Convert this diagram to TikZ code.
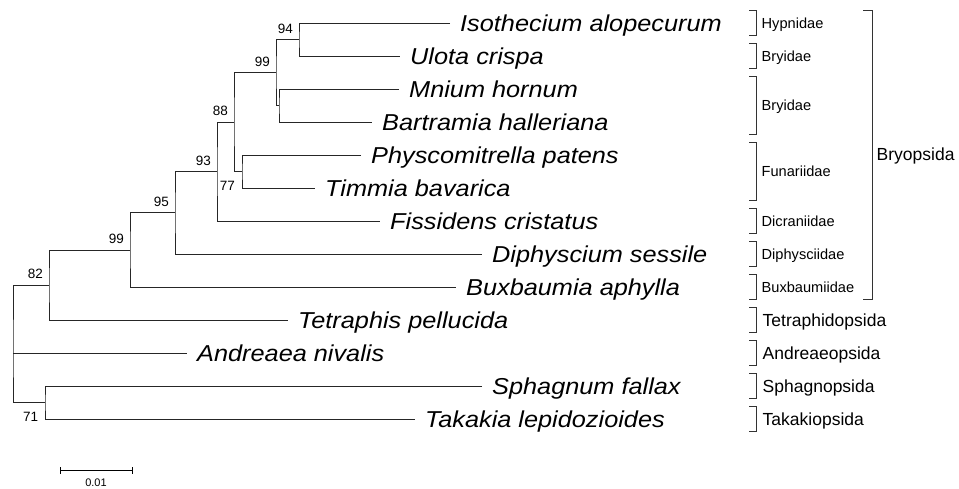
\documentclass[tikz,border=0pt]{standalone}
\usepackage{fontspec}
\setmainfont{Liberation Sans}
\newfontfamily\spfont[FakeStretch=1.1]{Liberation Sans}
\usetikzlibrary{positioning}

\tikzset{
  branch/.style={draw=black!85, line width=0.9pt},
  bracket/.style={draw=black!80, line width=0.9pt},
  taxon/.style={anchor=base west, inner sep=0pt, yshift=-8pt,
    font=\spfont\itshape\fontsize{23}{23}\selectfont},
  boot/.style={anchor=base east, inner sep=0pt, font=\fontsize{13.5}{13.5}\selectfont},
  subcl/.style={anchor=base west, inner sep=0pt, font=\fontsize{14.6}{14.6}\selectfont},
  cls/.style={anchor=base west, inner sep=0pt, font=\fontsize{17.5}{17.5}\selectfont},
}

\begin{document}
\begin{tikzpicture}[x=1pt, y=-1pt]
  \useasboundingbox (0,0) rectangle (959,488);

  % tips
  \coordinate (isot) at (450,23);
  \coordinate (ulot) at (400,56);
  \coordinate (mniu) at (399,89);
  \coordinate (bart) at (372,122);
  \coordinate (phys) at (361,155);
  \coordinate (timm) at (315,188);
  \coordinate (fiss) at (380,221);
  \coordinate (diph) at (482,254);
  \coordinate (buxb) at (456,287);
  \coordinate (tetr) at (288,320);
  \coordinate (andr) at (187,353);
  \coordinate (spha) at (482,386);
  \coordinate (taka) at (415,419);

  % internal nodes
  \coordinate (n94)  at (299,39.5);
  \coordinate (nmb)  at (279,105.5);
  \coordinate (n99a) at (276,72.5);
  \coordinate (n77)  at (242,171.5);
  \coordinate (n88)  at (234,122);
  \coordinate (n93)  at (217,171.5);
  \coordinate (n95)  at (175,212.75);
  \coordinate (n99b) at (130,250);
  \coordinate (n82)  at (49,285);
  \coordinate (n71)  at (45,402.5);
  \coordinate (root) at (13,353);

  % tree
  \draw[branch] (isot) -| (n94) |- (ulot);
  \draw[branch] (mniu) -| (nmb) |- (bart);
  \draw[branch] (n94) -| (n99a) |- (nmb);
  \draw[branch] (phys) -| (n77) |- (timm);
  \draw[branch] (n99a) -| (n88) |- (n77);
  \draw[branch] (n88) -| (n93) |- (fiss);
  \draw[branch] (n93) -| (n95) |- (diph);
  \draw[branch] (n95) -| (n99b) |- (buxb);
  \draw[branch] (n99b) -| (n82) |- (tetr);
  \draw[branch] (spha) -| (n71) |- (taka);
  \draw[branch] (n82) -| (root) |- (n71);
  \draw[branch] (root) -- (andr);

  % species
  \node[right=10pt of isot, taxon] (isotname) {Isothecium alopecurum};
  \node[right=10pt of ulot, taxon] (ulotname) {Ulota crispa};
  \node[right=10pt of mniu, taxon] (mniuname) {Mnium hornum};
  \node[right=10pt of bart, taxon] (bartname) {Bartramia halleriana};
  \node[right=10pt of phys, taxon] (physname) {Physcomitrella patens};
  \node[right=10pt of timm, taxon] (timmname) {Timmia bavarica};
  \node[right=10pt of fiss, taxon] (fissname) {Fissidens cristatus};
  \node[right=10pt of diph, taxon] (diphname) {Diphyscium sessile};
  \node[right=10pt of buxb, taxon] (buxbname) {Buxbaumia aphylla};
  \node[right=10pt of tetr, taxon] (tetrname) {Tetraphis pellucida};
  \node[right=10pt of andr, taxon] (andrname) {Andreaea nivalis};
  \node[right=10pt of spha, taxon] (sphaname) {Sphagnum fallax};
  \node[right=10pt of taka, taxon] (takaname) {Takakia lepidozioides};

  % bootstrap values
  \node[boot] (b94)  at ([xshift=-6pt,yshift=6.3pt]n94)  {94};
  \node[boot] (b99a) at ([xshift=-6pt,yshift=6.3pt]n99a) {99};
  \node[boot] (b88)  at ([xshift=-6pt,yshift=6.3pt]n88)  {88};
  \node[boot] (b93)  at ([xshift=-6pt,yshift=6.3pt]n93)  {93};
  \node[boot] (b95)  at ([xshift=-6pt,yshift=6.3pt]n95)  {95};
  \node[boot] (b99b) at ([xshift=-6pt,yshift=6.3pt]n99b) {99};
  \node[boot] (b82)  at ([xshift=-6pt,yshift=6.3pt]n82)  {82};
  \node[boot] (b77)  at ([xshift=-7pt,yshift=-19.2pt]n77) {77};
  \node[boot] (b71)  at ([xshift=-6.7pt,yshift=-19.2pt]n71) {71};

  % clade brackets
  \foreach \ya/\yb in {10.7/35.3, 43.7/68.3, 76.7/134.3, 142.7/200.3, 208.7/233.3,
                       241.7/266.3, 274.7/299.3, 307.7/332.3, 340.7/365.3, 373.7/398.3, 406.7/431.3}
    \draw[bracket] (749,\ya) -| (756.5,\yb) -- (749,\yb);
  \draw[bracket] (863,10.7) -| (872,299.3) -- (863,299.3);

  \node[subcl] (hypnidae)     at (761.5,28.2)  {Hypnidae};
  \node[subcl] (bryidaeA)     at (761.5,61.2)  {Bryidae};
  \node[subcl] (bryidaeB)     at (761.5,110.7) {Bryidae};
  \node[subcl] (funariidae)   at (761.5,176.7) {Funariidae};
  \node[subcl] (dicraniidae)  at (761.5,226.2) {Dicraniidae};
  \node[subcl] (diphysciidae) at (761.5,259.2) {Diphysciidae};
  \node[subcl] (buxbaumiidae) at (761.5,292.2) {Buxbaumiidae};
  \node[cls] (tetraphidopsida) at (762.5,326.3) {Tetraphidopsida};
  \node[cls] (andreaeopsida)   at (762.5,359.3) {Andreaeopsida};
  \node[cls] (sphagnopsida)    at (762.5,392.3) {Sphagnopsida};
  \node[cls] (takakiopsida)    at (762.5,425.3) {Takakiopsida};
  \node[cls] (bryopsida)       at (876.5,160.7) {Bryopsida};

  % scale bar
  \coordinate (sbl) at (60.7,470.7);
  \coordinate (sbr) at (132.7,470.7);
  \draw[line width=0.9pt] (sbl) -- (sbr);
  \draw[line width=0.9pt] ([yshift=3.4pt]sbl) -- ([yshift=-3.4pt]sbl);
  \draw[line width=0.9pt] ([yshift=3.4pt]sbr) -- ([yshift=-3.4pt]sbr);
  \node[font=\fontsize{11}{11}\selectfont, inner sep=0pt] (sblabel) at (96,482.3) {0.01};
\end{tikzpicture}
\end{document}
